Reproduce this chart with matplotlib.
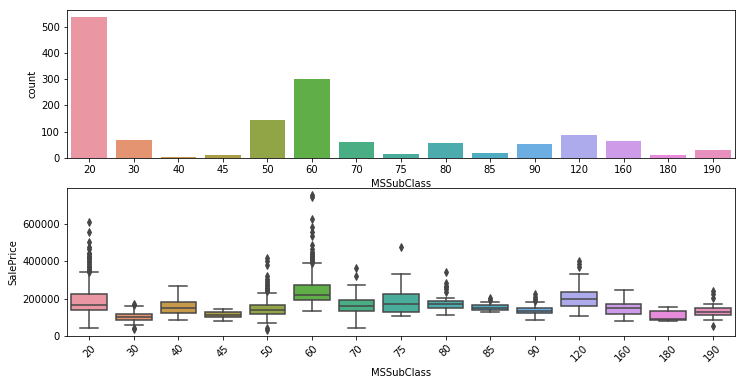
import matplotlib
matplotlib.use("Agg")
import matplotlib.pyplot as plt
import matplotlib.colors as mcolors
import colorsys
import seaborn as sns

categories = ["20", "30", "40", "45", "50", "60", "70", "75", "80", "85", "90", "120", "160", "180", "190"]
counts = [536, 69, 4, 12, 144, 299, 60, 16, 58, 20, 52, 87, 63, 10, 30]

q1 = [137000, 85000, 121000, 101000, 117000, 190000, 132000, 126000, 148000, 137000, 121000, 158000, 115700, 86000, 110000]
med = [163000, 101000, 151000, 114000, 140500, 220000, 162000, 172700, 169000, 151000, 135000, 197500, 148000, 92500, 130000]
q3 = [226000, 116000, 181500, 128000, 165500, 272000, 190000, 226000, 187000, 165500, 149500, 235000, 172700, 135000, 151000]
whislo = [41000, 59000, 85000, 80000, 69400, 133500, 41000, 107000, 112000, 126000, 85000, 107000, 80000, 80000, 85400]
whishi = [342000, 158000, 267000, 144000, 229600, 388000, 272000, 331000, 203000, 181500, 181500, 331000, 245600, 156600, 172700]
fliers = [
    [345000, 348000, 350000, 355000, 360000, 369900, 375000, 385000, 394617, 402000, 410000, 415298, 423000, 430000, 438780, 446261, 465000, 475000, 501837, 555000, 611657],
    [163000, 172000, 35000, 40000],
    [],
    [],
    [239000, 245000, 250000, 256000, 265000, 275000, 285000, 295000, 305000, 320000, 380000, 400000, 415000, 32000, 44000],
    [392000, 394432, 402861, 410000, 412500, 424870, 430000, 437154, 440000, 451950, 466500, 485000, 538000, 556581, 582933, 625000, 745000, 755000],
    [320000, 365000],
    [479000],
    [236700, 249000, 262000, 267000, 285000, 343500],
    [192000, 204700],
    [187000, 196000, 210000, 222500],
    [368000, 386000, 404000],
    [],
    [],
    [204700, 222500, 240000, 53000],
]

# seaborn-like colours
base = sns.husl_palette(len(categories), l=.7)
colors = [sns.desaturate(c, .75) for c in base]
lum = min(colorsys.rgb_to_hls(*c)[1] for c in colors) * .6
gray = mcolors.rgb2hex((lum, lum, lum))

plt.rcParams["font.size"] = 10
fig = plt.figure(figsize=(746 / 72, 385 / 72), dpi=72)
ax1 = fig.add_axes([67 / 746, 1 - 158 / 385, 668 / 746, 148 / 385])
ax2 = fig.add_axes([67 / 746, 1 - 336 / 385, 668 / 746, 148 / 385])

pos = list(range(len(categories)))
ax1.bar(pos, counts, width=0.8, color=colors)
ax1.set_xticks(pos)
ax1.set_xticklabels(categories)
ax1.set_xlim(-0.5, len(categories) - 0.5)
ax1.set_xlabel("MSSubClass")
ax1.set_ylabel("count")

stats = []
for i in range(len(categories)):
    stats.append(dict(q1=q1[i], med=med[i], q3=q3[i], whislo=whislo[i], whishi=whishi[i], fliers=fliers[i]))

bp = ax2.bxp(stats, positions=pos, widths=0.8, patch_artist=True, manage_ticks=False,
             boxprops=dict(edgecolor=gray, linewidth=1.5),
             medianprops=dict(color=gray, linewidth=1.5),
             whiskerprops=dict(color=gray, linewidth=1.5),
             capprops=dict(color=gray, linewidth=1.5),
             flierprops=dict(marker="d", markerfacecolor=gray, markeredgecolor=gray, markersize=5, linestyle="none"))
for patch, c in zip(bp["boxes"], colors):
    patch.set_facecolor(c)
ax2.set_xticks(pos)
ax2.set_xticklabels(categories, rotation=45)
ax2.set_xlim(-0.5, len(categories) - 0.5)
ax2.set_ylim(-1000, 793000)
ax2.set_xlabel("MSSubClass")
ax2.set_ylabel("SalePrice")

fig.savefig("out.png", dpi=72)
